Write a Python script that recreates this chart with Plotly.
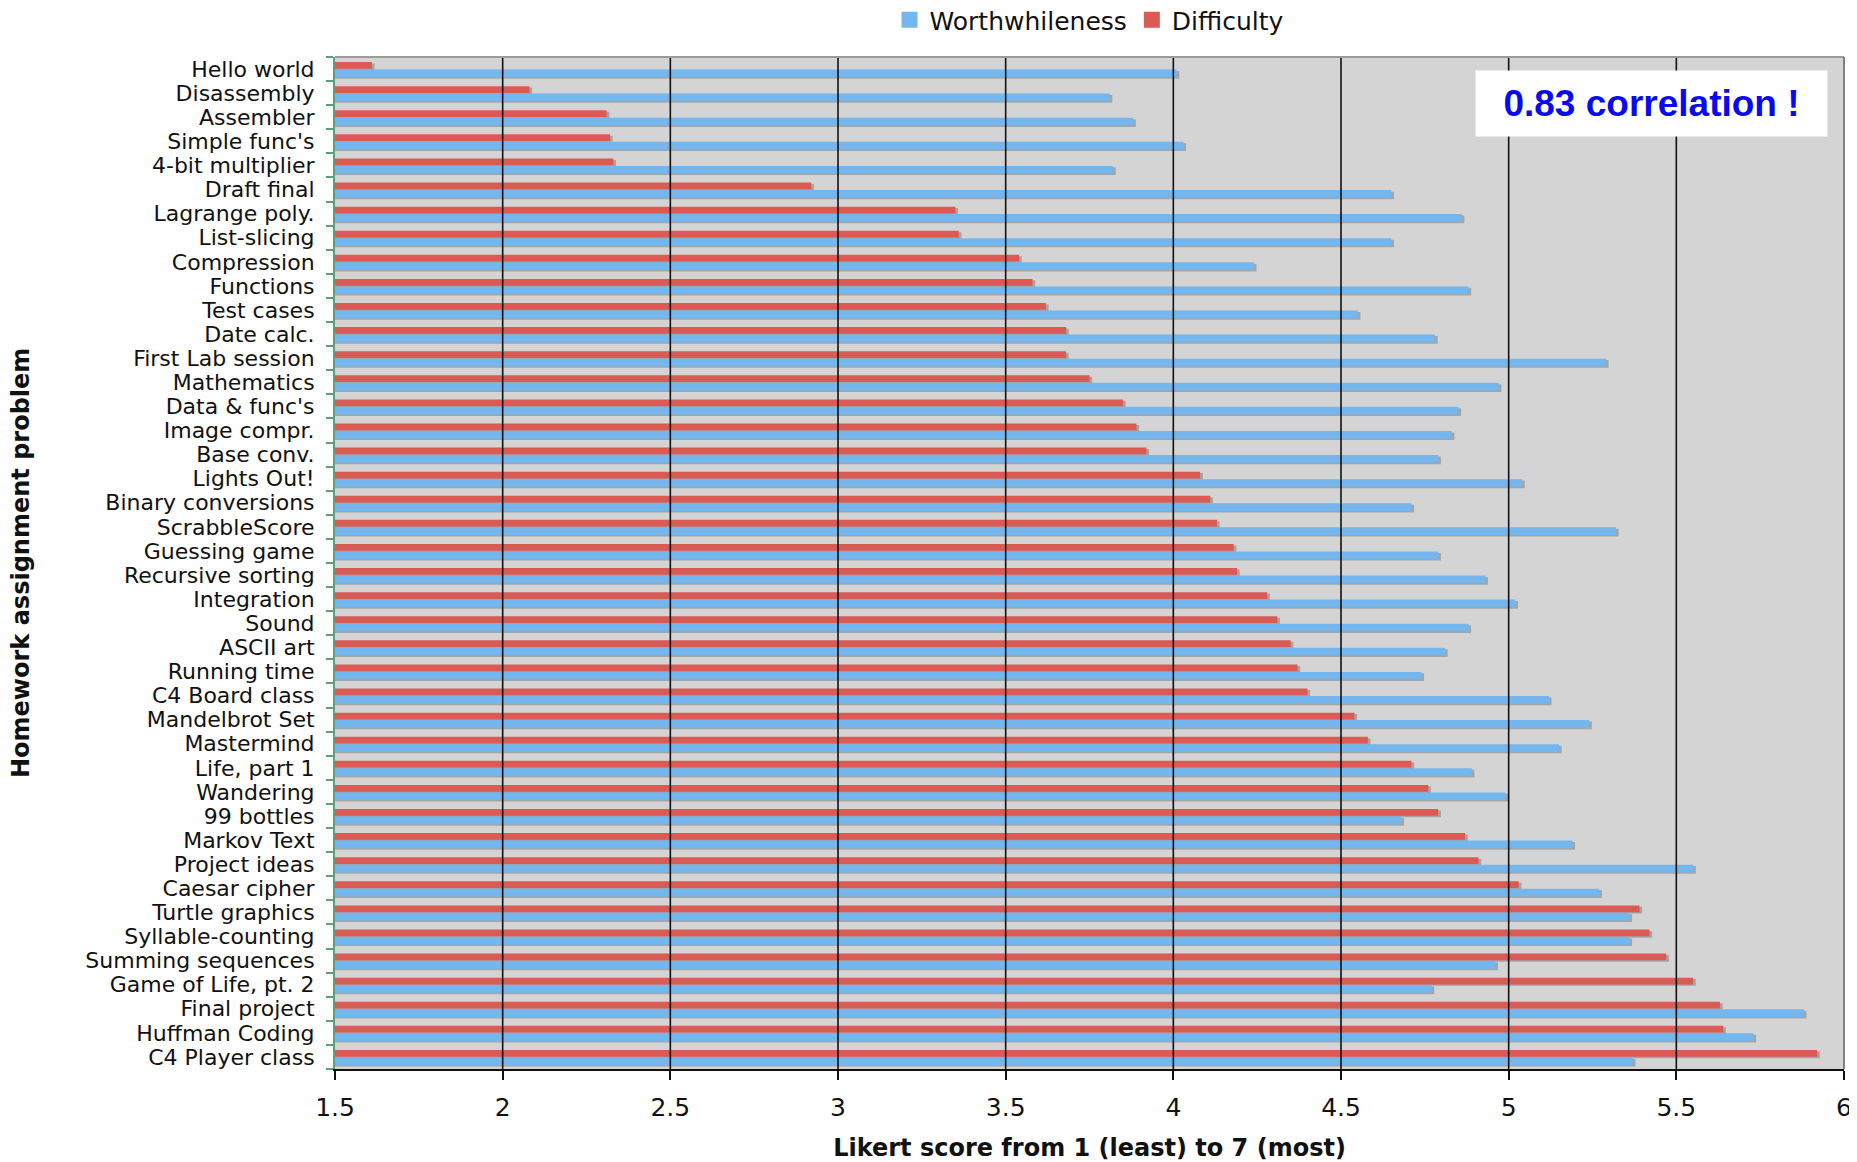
import plotly.graph_objects as go

categories = ["Hello world", "Disassembly", "Assembler", "Simple func's", "4-bit multiplier",
              "Draft final", "Lagrange poly.", "List-slicing", "Compression", "Functions",
              "Test cases", "Date calc.", "First Lab session", "Mathematics", "Data & func's",
              "Image compr.", "Base conv.", "Lights Out!", "Binary conversions", "ScrabbleScore",
              "Guessing game", "Recursive sorting", "Integration", "Sound", "ASCII art",
              "Running time", "C4 Board class", "Mandelbrot Set", "Mastermind", "Life, part 1",
              "Wandering", "99 bottles", "Markov Text", "Project ideas", "Caesar cipher",
              "Turtle graphics", "Syllable-counting", "Summing sequences", "Game of Life, pt. 2",
              "Final project", "Huffman Coding", "C4 Player class"]

difficulty = [1.61, 2.08, 2.31, 2.32, 2.33, 2.92, 3.35, 3.36, 3.54, 3.58,
              3.62, 3.68, 3.68, 3.75, 3.85, 3.89, 3.92, 4.08, 4.11, 4.13,
              4.18, 4.19, 4.28, 4.31, 4.35, 4.37, 4.40, 4.54, 4.58, 4.71,
              4.76, 4.79, 4.87, 4.91, 5.03, 5.39, 5.42, 5.47, 5.55, 5.63,
              5.64, 5.92]

worthwhileness = [4.01, 3.81, 3.88, 4.03, 3.82, 4.65, 4.86, 4.65, 4.24, 4.88,
                  4.55, 4.78, 5.29, 4.97, 4.85, 4.83, 4.79, 5.04, 4.71, 5.32,
                  4.79, 4.93, 5.02, 4.88, 4.81, 4.74, 5.12, 5.24, 5.15, 4.89,
                  4.99, 4.68, 5.19, 5.55, 5.27, 5.36, 5.36, 4.96, 4.77, 5.88,
                  5.73, 5.37]

x_ticks = [1.5, 2, 2.5, 3, 3.5, 4, 4.5, 5, 5.5, 6]
grid_ticks = [2, 2.5, 3, 3.5, 4, 4.5, 5, 5.5]

RED = "#db5a54"
BLUE = "#74b6ee"
SHADOW = "rgba(90,90,90,0.38)"
FONT = "DejaVu Sans"
SHADOW_DX = 0.008

fig = go.Figure()

# drop shadows (underneath the bars)
fig.add_trace(go.Bar(y=categories, x=[v + SHADOW_DX for v in difficulty], orientation="h",
                     offset=-0.23, width=0.28, marker=dict(color=SHADOW, line=dict(width=0)),
                     showlegend=False, hoverinfo="skip"))
fig.add_trace(go.Bar(y=categories, x=[v + SHADOW_DX for v in worthwhileness], orientation="h",
                     offset=0.08, width=0.32, marker=dict(color=SHADOW, line=dict(width=0)),
                     showlegend=False, hoverinfo="skip"))

fig.add_trace(go.Bar(name="Difficulty", y=categories, x=difficulty, orientation="h",
                     offset=-0.29, width=0.28, marker=dict(color=RED, line=dict(width=0)),
                     legendgroup="d", showlegend=False))
fig.add_trace(go.Bar(name="Worthwhileness", y=categories, x=worthwhileness, orientation="h",
                     offset=0.02, width=0.32, marker=dict(color=BLUE, line=dict(width=0)),
                     legendgroup="w", showlegend=False))

# legend entries with square swatches
fig.add_trace(go.Scatter(name="Worthwhileness", x=[None], y=[None], mode="markers",
                         marker=dict(symbol="square", size=17, color=BLUE),
                         legendgroup="w", legendrank=1))
fig.add_trace(go.Scatter(name="Difficulty", x=[None], y=[None], mode="markers",
                         marker=dict(symbol="square", size=17, color=RED),
                         legendgroup="d", legendrank=2))

shapes = []
for g in grid_ticks:
    shapes.append(dict(type="line", xref="x", yref="paper", x0=g, x1=g, y0=0, y1=1,
                       line=dict(color="#111111", width=1.6), layer="above"))
shapes.append(dict(type="line", xref="paper", yref="paper", x0=0, x1=1, y0=1, y1=1,
                   line=dict(color="#9a9a9a", width=2), layer="above"))
shapes.append(dict(type="line", xref="paper", yref="paper", x0=1, x1=1, y0=0, y1=1,
                   line=dict(color="#808080", width=2), layer="above"))

W, H = 1849, 1154
ML, MR, MT, MB = 327, 13, 49, 93
plot_w = W - ML - MR
plot_h = H - MT - MB

fig.update_layout(
    width=W, height=H,
    margin=dict(l=ML, r=MR, t=MT, b=MB, autoexpand=False),
    paper_bgcolor="white", plot_bgcolor="#d4d4d4",
    barmode="overlay",
    font=dict(family=FONT, size=22, color="#111111"),
    legend=dict(orientation="h", x=0.5, xanchor="center",
                yref="container", y=1 - 12 / H, yanchor="middle",
                font=dict(family=FONT, size=25, color="#111111"), itemwidth=30,
                bgcolor="rgba(0,0,0,0)", tracegroupgap=0),
    shapes=shapes,
    annotations=[
        dict(text="<b>0.83 correlation !</b>", xref="paper", yref="paper",
             x=(1643 - ML) / plot_w, y=1 - (96 - MT) / plot_h,
             xanchor="center", yanchor="middle", showarrow=False,
             font=dict(family="Liberation Sans", size=37, color="#0a0af0"),
             bgcolor="white", width=343, height=57, borderpad=4, align="center"),
        dict(text="<b>Homework assignment problem</b>", xref="paper", yref="paper",
             x=(13 - ML) / plot_w, y=0.5, xanchor="center", yanchor="middle",
             textangle=-90, showarrow=False,
             font=dict(family=FONT, size=24, color="#111111")),
    ],
    xaxis=dict(range=[1.5, 6], tickvals=x_ticks, showgrid=False, zeroline=False,
               showline=True, linecolor="#111111", linewidth=2,
               ticks="outside", ticklen=9, tickwidth=2, tickcolor="#111111",
               ticklabelstandoff=6,
               tickfont=dict(family=FONT, size=25, color="#111111"),
               title=dict(text="<b>Likert score from 1 (least) to 7 (most)</b>",
                          font=dict(family=FONT, size=24, color="#111111"), standoff=21)),
    yaxis=dict(type="category", categoryorder="array", categoryarray=categories,
               tickvals=categories, autorange="reversed", showgrid=False, zeroline=False,
               showline=True, linecolor="#5aa07a", linewidth=2,
               ticks="outside", ticklen=7, tickwidth=2, tickcolor="#5aa07a", tickson="boundaries",
               ticklabelstandoff=14,
               tickfont=dict(family=FONT, size=22, color="#111111")),
)

fig.write_html("out.html")
